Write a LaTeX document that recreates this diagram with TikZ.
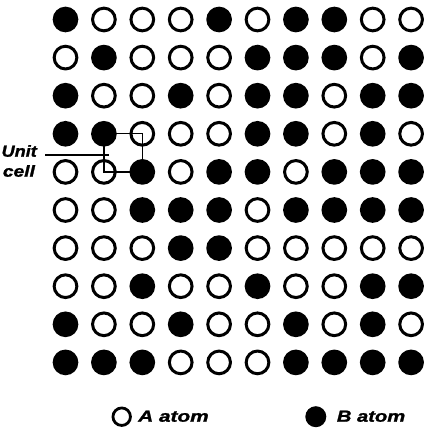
\documentclass[tikz,border=0pt]{standalone}
\usepackage{fontspec}
\setmainfont{Liberation Sans}
\newfontfamily\lblfont[BoldItalicFeatures={FakeBold=1.2}]{Liberation Sans}
\begin{document}
\begin{tikzpicture}[x=1pt,y=-1pt,
  atom1/.style={circle, fill=black, minimum size=25.7pt, inner sep=0pt},
  atom0/.style={circle, draw=black, line width=3pt, minimum size=22.7pt, inner sep=0pt},
  legA/.style={circle, draw=black, line width=2.8pt, minimum size=17.5pt, inner sep=0pt},
  legB/.style={circle, fill=black, minimum size=21pt, inner sep=0pt},
  lbl/.style={font=\lblfont\bfseries\itshape\fontsize{16}{18}\selectfont, inner sep=0pt},
  cellline/.style={line width=1.4pt}]
\useasboundingbox (0,0) rectangle (425,430);
\foreach \row [count=\r from 0] in {
  {1,0,0,0,1,0,1,1,0,0},
  {0,1,0,0,0,1,1,1,0,1},
  {1,0,0,1,0,1,1,0,1,1},
  {1,1,0,0,0,1,1,0,1,0},
  {0,0,1,0,1,1,0,1,1,1},
  {0,0,1,1,1,0,1,1,1,1},
  {0,0,0,1,1,0,0,0,0,0},
  {0,0,1,0,0,1,0,0,1,1},
  {1,0,0,1,0,0,1,0,1,0},
  {1,1,1,0,0,0,1,1,1,1}} {
  \foreach \v [count=\c from 0] in \row {
    \node[atom\v] (a-\r-\c) at ({65.5+38.4*\c},{19.5+38.1*\r}) {};
  }
}
% unit cell
\draw[cellline] (a-3-1.center) -- (a-3-2.center) -- (a-4-2.center) -- (a-4-1.center) -- cycle;
\coordinate (lead) at (45,155);
\coordinate (leadend) at (109,155);
\draw[cellline] (lead) -- (leadend);
\node[lbl, anchor=base] (unit) at (19.2,156.7) {\scalebox{1.13}[1]{Unit}};
\node[lbl, anchor=base] (cell) at (18.9,176.7) {\scalebox{1.2}[1]{cell}};
% legend
\node[legA] (la) at (121.7,416.7) {};
\node[lbl, anchor=base west] (ta) at (138,421.7) {\scalebox{1.3}[1]{A atom}};
\node[legB] (lb) at (315.8,416.7) {};
\node[lbl, anchor=base west] (tb) at (336.7,421.7) {\scalebox{1.26}[1]{B atom}};
\end{tikzpicture}
\end{document}
